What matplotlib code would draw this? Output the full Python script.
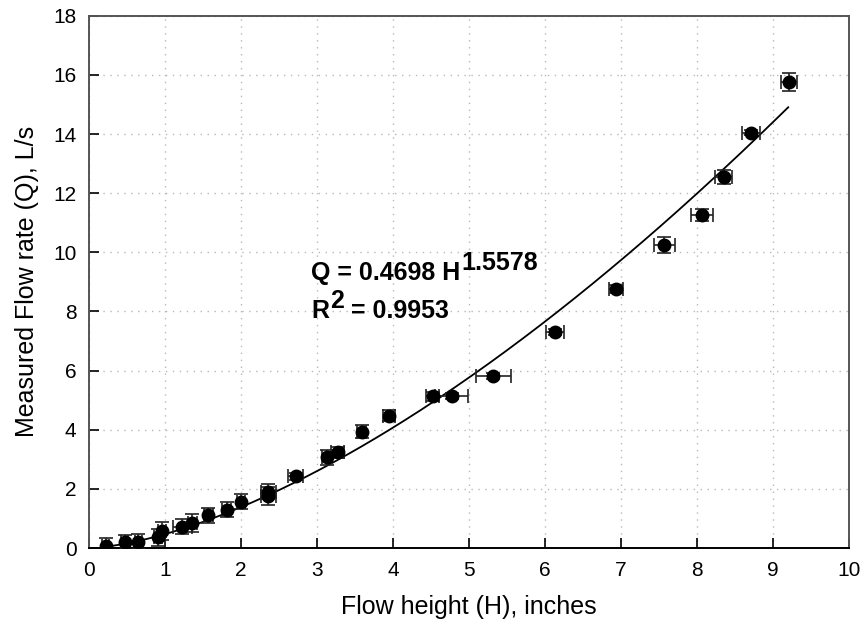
import matplotlib
matplotlib.use("Agg")
import matplotlib.pyplot as plt
import numpy as np

plt.rcParams['font.family'] = ['Liberation Sans', 'DejaVu Sans']

# =====================================================
# DATA
# =====================================================

flow_height = [0.22, 0.47, 0.65, 0.91, 0.96, 1.23, 1.36, 1.57, 1.81, 2.00,
               2.36, 2.36, 2.72, 3.13, 3.27, 3.59, 3.95, 4.52, 4.77, 5.32,
               6.13, 6.93, 7.57, 8.07, 8.35, 8.71, 9.21]

flow_rate = [0.08, 0.19, 0.22, 0.36, 0.58, 0.72, 0.85, 1.10, 1.30, 1.57,
             1.75, 1.90, 2.42, 3.07, 3.24, 3.94, 4.48, 5.13, 5.13, 5.82,
             7.31, 8.77, 10.24, 11.25, 12.54, 14.04, 15.75]

height_err = [0.05, 0.05, 0.05, 0.05, 0.05, 0.12, 0.06, 0.06, 0.06, 0.05,
              0.10, 0.10, 0.10, 0.06, 0.08, 0.06, 0.08, 0.09, 0.22, 0.23,
              0.12, 0.09, 0.14, 0.145, 0.11, 0.12, 0.11]

rate_err = [0.25, 0.25, 0.25, 0.30, 0.30, 0.25, 0.30, 0.25, 0.25, 0.25,
            0.30, 0.25, 0.12, 0.25, 0.18, 0.22, 0.18, 0.15, 0.10, 0.10,
            0.10, 0.13, 0.28, 0.20, 0.24, 0.08, 0.30]

# power-law fit  Q = a * H^b
fit_a = 0.4698
fit_b = 1.5578
fit_r2 = 0.9953
fit_range = [0.2, 9.2]

# =====================================================
# PLOT
# =====================================================

fig = plt.figure(figsize=(8.63, 6.31), dpi=100)
ax = fig.add_axes([0.1031, 0.1315, 0.8807, 0.8436])

ax.errorbar(
    flow_height,
    flow_rate,
    xerr=height_err,
    yerr=rate_err,
    fmt='none',
    ecolor='#222222',
    elinewidth=1.2,
    capsize=4.8,
    capthick=1.2,
    zorder=3
)

ax.plot(
    flow_height,
    flow_rate,
    'o',
    color='black',
    markersize=9,
    zorder=4
)

h_fit = np.linspace(fit_range[0], fit_range[1], 200)
ax.plot(h_fit, fit_a * h_fit ** fit_b, color='black', linewidth=1.3, zorder=2)

# equation text
t1 = ax.text(2.92, 9.06, f"Q = {fit_a:.4f} H", fontsize=18,
             fontweight='bold', ha='left', va='baseline')
ax.annotate(f"{fit_b:.4f}", xy=(1, 0), xycoords=t1, xytext=(1, 10),
            textcoords='offset pixels', fontsize=18, fontweight='bold',
            ha='left', va='bottom')

t2 = ax.text(2.92, 7.77, "R", fontsize=18,
             fontweight='bold', ha='left', va='baseline')
t3 = ax.annotate("2", xy=(1, 0), xycoords=t2, xytext=(1, 10),
                 textcoords='offset pixels', fontsize=18,
                 fontweight='bold', ha='left', va='bottom')
ax.annotate(f" = {fit_r2:.4f}", xy=(1, 0), xycoords=t3, xytext=(0, -10),
            textcoords='offset pixels', fontsize=18, fontweight='bold',
            ha='left', va='bottom')

ax.set_xlim(0, 10)
ax.set_ylim(0, 18)
ax.set_xticks(np.arange(0, 11, 1))
ax.set_yticks(np.arange(0, 19, 2))

ax.tick_params(direction='in', length=7, width=1.2, labelsize=15, pad=9,
               colors='black')

ax.grid(True, linestyle=(0, (1, 4)), color='#b8b8b8', linewidth=1)

for side in ['left', 'top', 'right']:
    ax.spines[side].set_color('#555555')
    ax.spines[side].set_linewidth(1.4)
ax.spines['bottom'].set_color('black')
ax.spines['bottom'].set_linewidth(1.4)

ax.set_xlabel("Flow height (H), inches", fontsize=18, labelpad=11)
ax.set_ylabel("Measured Flow rate (Q), L/s", fontsize=18, labelpad=10)

fig.savefig("out.png", dpi=100)
